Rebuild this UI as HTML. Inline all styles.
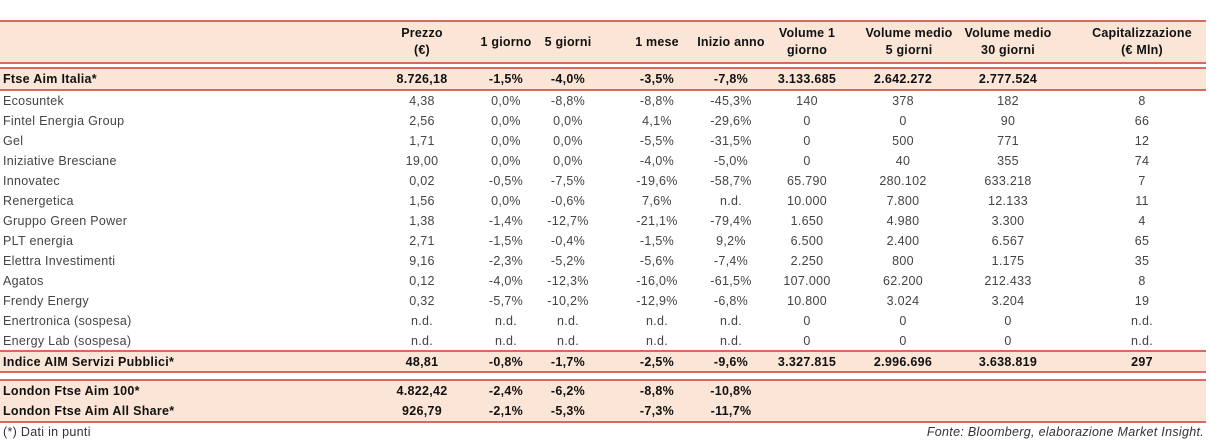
<!DOCTYPE html>
<html><head><meta charset="utf-8"><style>
body{margin:0;width:1210px;height:444px;background:#fff;font-family:"Liberation Sans",sans-serif;color:#444;position:relative;overflow:hidden}
.band{position:absolute;left:0;width:1206px;background:#fbe5d6}
.line{position:absolute;left:0;width:1206px;background:#d8695c}
.row{position:absolute;left:0;width:1206px;height:20px;font-size:12.5px;line-height:20px;letter-spacing:0.3px}
.row span{position:absolute;text-align:center;width:110px;white-space:nowrap}
.row span.n{left:3px;text-align:left;width:360px}
.b{font-weight:bold;color:#111}
.hdr{position:absolute;font-weight:bold;font-size:12.5px;text-align:center;color:#111;line-height:17px;width:140px;letter-spacing:0.2px}
.foot{position:absolute;top:425px;font-size:12.5px;color:#333;letter-spacing:0.3px}
</style></head><body>
<div class="line" style="top:20px;height:2px"></div>
<div class="band" style="top:22px;height:40px"></div>
<div class="line" style="top:62px;height:2px"></div>
<div class="hdr" style="left:352px;top:25px">Prezzo<br>(€)</div>
<div class="hdr" style="left:436px;top:34px">1 giorno</div>
<div class="hdr" style="left:498px;top:34px">5 giorni</div>
<div class="hdr" style="left:587px;top:34px">1 mese</div>
<div class="hdr" style="left:661px;top:34px">Inizio anno</div>
<div class="hdr" style="left:737px;top:25px">Volume 1<br>giorno</div>
<div class="hdr" style="left:839px;top:25px">Volume medio<br>5 giorni</div>
<div class="hdr" style="left:938px;top:25px">Volume medio<br>30 giorni</div>
<div class="hdr" style="left:1072px;top:25px">Capitalizzazione<br>(€ Mln)</div>

<div class="line" style="top:67px;height:2px"></div>
<div class="band" style="top:69px;height:20px"></div>
<div class="line" style="top:89px;height:2px"></div>
<div class="line" style="top:350px;height:2px"></div>
<div class="band" style="top:352px;height:19px"></div>
<div class="line" style="top:371px;height:2px"></div>
<div class="line" style="top:379px;height:2px"></div>
<div class="band" style="top:381px;height:40px"></div>
<div class="line" style="top:421px;height:2px"></div>

<div id="rows"></div>
<div class="foot" style="left:3px">(*) Dati in punti</div>
<div class="foot" style="right:6px;font-style:italic">Fonte: Bloomberg, elaborazione Market Insight.</div>
<script>
const rowNames=["Ftse Aim Italia*","Ecosuntek","Fintel Energia Group","Gel","Iniziative Bresciane","Innovatec","Renergetica","Gruppo Green Power","PLT energia","Elettra Investimenti","Agatos","Frendy Energy","Enertronica (sospesa)","Energy Lab (sospesa)","Indice AIM Servizi Pubblici*","London Ftse Aim 100*","London Ftse Aim All Share*"];
const rowValues=[
["8.726,18","-1,5%","-4,0%","-3,5%","-7,8%","3.133.685","2.642.272","2.777.524",""],
["4,38","0,0%","-8,8%","-8,8%","-45,3%","140","378","182","8"],
["2,56","0,0%","0,0%","4,1%","-29,6%","0","0","90","66"],
["1,71","0,0%","0,0%","-5,5%","-31,5%","0","500","771","12"],
["19,00","0,0%","0,0%","-4,0%","-5,0%","0","40","355","74"],
["0,02","-0,5%","-7,5%","-19,6%","-58,7%","65.790","280.102","633.218","7"],
["1,56","0,0%","-0,6%","7,6%","n.d.","10.000","7.800","12.133","11"],
["1,38","-1,4%","-12,7%","-21,1%","-79,4%","1.650","4.980","3.300","4"],
["2,71","-1,5%","-0,4%","-1,5%","9,2%","6.500","2.400","6.567","65"],
["9,16","-2,3%","-5,2%","-5,6%","-7,4%","2.250","800","1.175","35"],
["0,12","-4,0%","-12,3%","-16,0%","-61,5%","107.000","62.200","212.433","8"],
["0,32","-5,7%","-10,2%","-12,9%","-6,8%","10.800","3.024","3.204","19"],
["n.d.","n.d.","n.d.","n.d.","n.d.","0","0","0","n.d."],
["n.d.","n.d.","n.d.","n.d.","n.d.","0","0","0","n.d."],
["48,81","-0,8%","-1,7%","-2,5%","-9,6%","3.327.815","2.996.696","3.638.819","297"],
["4.822,42","-2,4%","-6,2%","-8,8%","-10,8%","","","",""],
["926,79","-2,1%","-5,3%","-7,3%","-11,7%","","","",""]];
const rowTops=[69,91,111,131,151,171,191,211,231,251,271,291,311,331,352,381,401];
const boldRows=[0,14,15,16];
const colCenters=[422,506,568,657,731,807,903,1008,1142];
const host=document.getElementById('rows');
rowNames.forEach((nm,i)=>{
  const r=document.createElement('div');
  r.className='row'+(boldRows.includes(i)?' b':'');
  r.style.top=rowTops[i]+'px';
  
  
  const n=document.createElement('span');n.className='n';n.textContent=nm;
  
  
  r.appendChild(n);
  rowValues[i].forEach((v,j)=>{
    const s=document.createElement('span');
    s.textContent=v;s.style.left=(colCenters[j]-55)+'px';
    
    
    r.appendChild(s);
  });
  host.appendChild(r);
});
</script>
</body></html>
